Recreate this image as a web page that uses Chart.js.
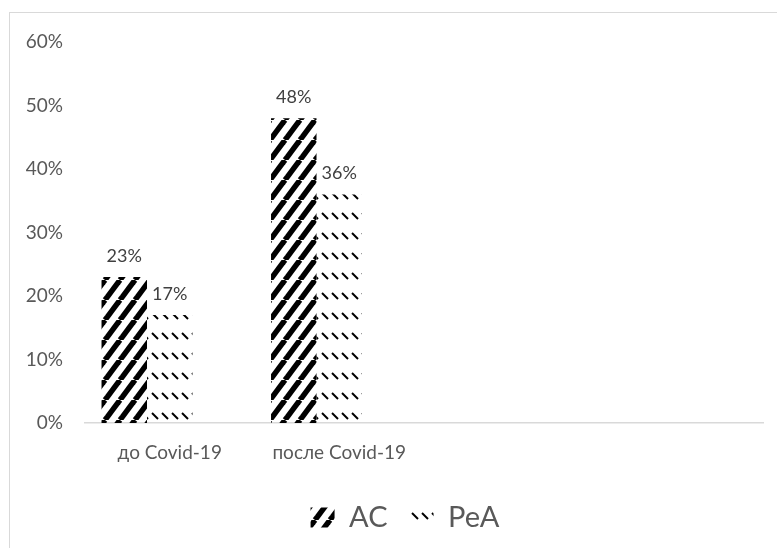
<!DOCTYPE html>
<html>
<head>
<meta charset="utf-8">
<script src="https://cdn.jsdelivr.net/npm/chart.js@4.4.1/dist/chart.umd.min.js"></script>
<style>
  html, body { margin: 0; padding: 0; background: #fff; overflow: hidden; }
  #wrap { position: relative; width: 777px; height: 548px; }
  #frame { position: absolute; left: 9px; top: 12px; width: 800px; height: 560px;
           border: 1px solid #d9d9d9; pointer-events: none; }
</style>
</head>
<body>
<div id="wrap">
  <canvas id="covidChart" width="777" height="548"></canvas>
  <div id="frame"></div>
</div>
<script>
// カテゴリ（右側の2つは空）
const CATEGORIES = ['до Covid-19', 'после Covid-19', '', ''];
const SERIES_AC = [23, 48, null, null];
const SERIES_PEA = [17, 36, null, null];
const SERIES_EMPTY = [null, null, null, null]; // 3本目の空き系列（棒の位置ずれ用）
const Y_TICKS = [0, 10, 20, 30, 40, 50, 60];

const TEXT_COLOR = '#595959';
const LABEL_COLOR = '#404040';
const FONT = 'Lato, "Open Sans", sans-serif';

// 太い右上がり斜線
function makeStripePattern() {
    const c = document.createElement('canvas');
    c.width = 15;
    c.height = 20;
    const g = c.getContext('2d');
    g.strokeStyle = '#000';
    g.lineWidth = 5.5;
    [-15, 0, 15].forEach(dx => {
        g.beginPath();
        g.moveTo(dx, 20);
        g.lineTo(dx + 15, 0);
        g.stroke();
    });
    return g.createPattern(c, 'repeat');
}

// 破線の右下がり斜線
function makeDashPattern() {
    const c = document.createElement('canvas');
    c.width = 10;
    c.height = 20;
    const g = c.getContext('2d');
    g.strokeStyle = '#000';
    g.lineWidth = 2;
    g.beginPath();
    g.moveTo(2, 13);
    g.lineTo(8, 19);
    g.stroke();
    return g.createPattern(c, 'repeat');
}

// 棒の上に値を表示
const valueLabels = {
    id: 'valueLabels',
    afterDatasetsDraw(chart) {
        const ctx = chart.ctx;
        ctx.save();
        ctx.font = '18px ' + FONT;
        ctx.fillStyle = LABEL_COLOR;
        ctx.textAlign = 'center';
        ctx.textBaseline = 'middle';
        [0, 1].forEach(i => {
            const meta = chart.getDatasetMeta(i);
            meta.data.forEach((bar, j) => {
                const v = chart.data.datasets[i].data[j];
                if (v === null) return;
                ctx.fillText(v + '%', bar.x, bar.y - 21);
            });
        });
        ctx.restore();
    }
};

// 凡例を少し右へ（元図では右寄り）
const shiftLegend = {
    id: 'shiftLegend',
    afterLayout(chart) {
        if (chart.legend) chart.legend.left += 38;
    }
};

const ctx = document.getElementById('covidChart').getContext('2d');
const chart = new Chart(ctx, {
    type: 'bar',
    data: {
        labels: CATEGORIES,
        datasets: [
            { label: 'AC', data: SERIES_AC, backgroundColor: makeStripePattern(), borderWidth: 0 },
            { label: 'PeA', data: SERIES_PEA, backgroundColor: makeDashPattern(), borderWidth: 0 },
            { label: '', data: SERIES_EMPTY, backgroundColor: 'rgba(0,0,0,0)' }
        ]
    },
    options: {
        responsive: false,
        animation: false,
        categoryPercentage: 0.805,
        barPercentage: 1.0,
        layout: { padding: { left: 9, right: 14, top: 42, bottom: 6 } },
        scales: {
            x: {
                grid: { display: false },
                border: { display: true, color: '#d9d9d9', width: 1.5 },
                ticks: { color: TEXT_COLOR, font: { family: FONT, size: 19 }, padding: 10, maxRotation: 0 },
                afterFit(scale) { scale.height = 58; }
            },
            y: {
                min: 0,
                max: 60,
                afterBuildTicks(scale) { scale.ticks = Y_TICKS.map(v => ({ value: v })); },
                grid: { display: false },
                border: { display: false },
                ticks: {
                    color: TEXT_COLOR,
                    font: { family: FONT, size: 19 },
                    padding: 14,
                    callback: v => v + '%'
                },
                afterFit(scale) { scale.width = 76; }
            }
        },
        plugins: {
            legend: {
                position: 'bottom',
                labels: {
                    color: TEXT_COLOR,
                    font: { family: FONT, size: 29 },
                    boxWidth: 24,
                    boxHeight: 20,
                    padding: 22,
                    filter: item => item.text !== ''
                }
            },
            tooltip: { enabled: false }
        }
    },
    plugins: [valueLabels, shiftLegend]
});
</script>
</body>
</html>
